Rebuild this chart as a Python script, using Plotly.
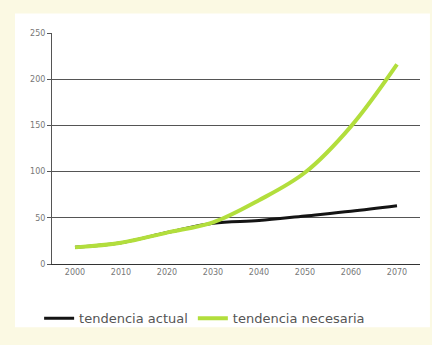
import plotly.graph_objects as go

years = ["2000", "2010", "2020", "2030", "2040", "2050", "2060", "2070"]
actual = [18, 23, 34, 44, 47, 52, 57, 63]
necesaria = [18, 23, 34, 45, 69, 99, 149, 216]
y_ticks = [0, 50, 100, 150, 200, 250]

fig = go.Figure()
fig.add_trace(go.Scatter(x=years, y=actual, mode="lines", name="tendencia actual",
                         line=dict(color="#141414", width=3, shape="spline", smoothing=1.0)))
fig.add_trace(go.Scatter(x=years, y=necesaria, mode="lines", name="tendencia necesaria",
                         line=dict(color="#B2DE3C", width=4, shape="spline", smoothing=1.0)))

fig.update_layout(
    width=432, height=345,
    margin=dict(l=52, r=12, t=33, b=75),
    paper_bgcolor="#FBF9E3",
    plot_bgcolor="white",
    font=dict(family="DejaVu Sans", color="#666666", size=8),
    showlegend=True,
    legend=dict(orientation="h", x=-0.035, y=-0.17, xanchor="left", yanchor="top",
                font=dict(size=13, color="#555555"), bgcolor="rgba(0,0,0,0)",
                traceorder="normal", itemwidth=30),
    shapes=[dict(type="rect", xref="paper", yref="paper", x0=-0.1005, x1=1.027, y0=-0.274, y1=1.084,
                 fillcolor="white", line=dict(width=0), layer="below")],
)
fig.update_xaxes(type="category", range=[-0.5, 7.5], showgrid=False, showline=True,
                 linecolor="#333333", linewidth=1, ticks="", tickfont=dict(size=8, color="#777777"))
fig.update_yaxes(range=[0, 250], tickvals=y_ticks, showgrid=True, gridcolor="#555555", gridwidth=1,
                 showline=True, linecolor="#555555", linewidth=1, ticks="outside", ticklen=4,
                 tickcolor="#555555", zeroline=False, tickfont=dict(size=8, color="#777777"))

fig.write_html("out.html")
